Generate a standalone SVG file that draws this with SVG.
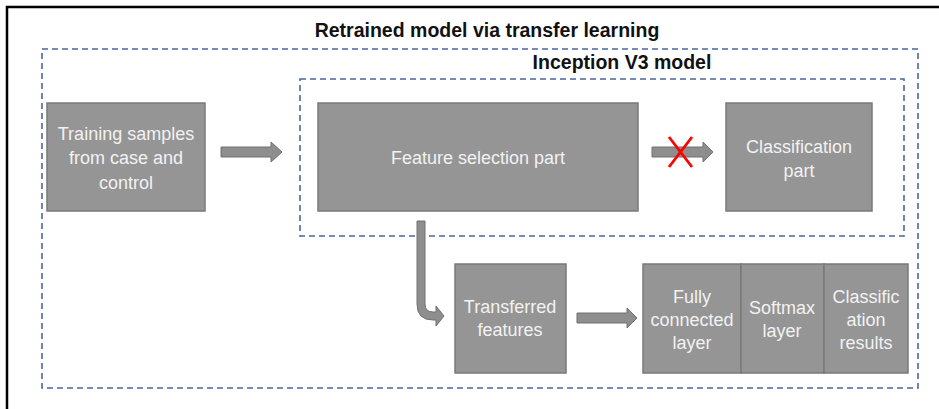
<svg xmlns="http://www.w3.org/2000/svg" width="939" height="409" viewBox="0 0 939 409">
<style>
.box{fill:#959595;stroke:#7a7a7a;stroke-width:1.5}
.arr{fill:#8e8e8e;stroke:#707070;stroke-width:1}
.t{font-family:"Liberation Sans",Arial,sans-serif;font-size:18px;fill:#f2f2f2;text-anchor:middle}
.h{font-family:"Liberation Sans",Arial,sans-serif;font-size:19.5px;font-weight:bold;fill:#111;text-anchor:middle}
.dash{fill:none;stroke:#4a67a0;stroke-width:1.6;stroke-dasharray:6 4}
</style>
<rect width="939" height="409" fill="#fff"/>
<path d="M7,409 V7 H939" fill="none" stroke="#000" stroke-width="2.5"/>
<g id="outer">
<rect class="dash" x="42" y="49" width="876" height="339"/>
<text class="h" x="487" y="37">Retrained model via transfer learning</text>
</g>
<g id="inception">
<rect class="dash" x="300" y="79" width="604" height="157"/>
<text class="h" x="622" y="69">Inception V3 model</text>
</g>
<g id="training">
<rect class="box" x="47" y="103" width="158" height="108"/>
<text class="t" x="126" y="140">Training samples</text>
<text class="t" x="126" y="164">from case and</text>
<text class="t" x="126" y="189">control</text>
</g>
<g id="feature">
<rect class="box" x="318" y="103" width="320" height="108"/>
<text class="t" x="478" y="164">Feature selection part</text>
</g>
<g id="classification">
<rect class="box" x="726" y="103" width="146" height="108"/>
<text class="t" x="799" y="153">Classification</text>
<text class="t" x="799" y="177">part</text>
</g>
<g id="transferred">
<rect class="box" x="455" y="264" width="111" height="109"/>
<text class="t" x="510" y="313">Transferred</text>
<text class="t" x="510" y="336">features</text>
</g>
<g id="fully">
<rect class="box" x="643" y="264" width="98" height="109"/>
<text class="t" x="692" y="303">Fully</text>
<text class="t" x="692" y="326">connected</text>
<text class="t" x="692" y="349">layer</text>
</g>
<g id="softmax">
<rect class="box" x="741" y="264" width="83" height="109"/>
<text class="t" x="782" y="314">Softmax</text>
<text class="t" x="782" y="337">layer</text>
</g>
<g id="results">
<rect class="box" x="824" y="264" width="84" height="109"/>
<text class="t" x="866" y="303">Classific</text>
<text class="t" x="866" y="326">ation</text>
<text class="t" x="866" y="349">results</text>
</g>
<g id="connectors">
<path class="arr" d="M221,147 H271 V142 L282,152 L271,162 V157 H221 Z"/>
<path class="arr" d="M652,147 H703 V142 L713,152 L703,162 V157 H652 Z"/>
<path class="arr" d="M417,221 H425 V304 Q425,312 433,312 H436 V306 L444,316 L436,326 V320 H433 Q417,320 417,304 Z"/>
<path class="arr" d="M577,313 H627 V308 L637,318 L627,328 V323 H577 Z"/>
<path d="M669,137 L692,167 M692,137 L669,167" stroke="#ff0000" stroke-width="2.8" fill="none"/>
</g>
</svg>
